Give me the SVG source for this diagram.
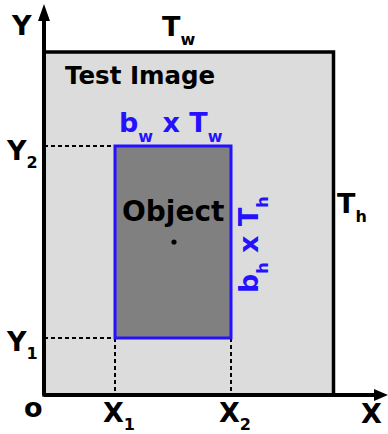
<svg xmlns="http://www.w3.org/2000/svg" width="388" height="434" viewBox="0 0 388 434">
<defs>
<style>
text{font-family:"DejaVu Sans",sans-serif;font-weight:bold;fill:#000}
.big{font-size:27px}
.sub{font-size:16px}
.blue{fill:#2412ff}
.dash{stroke:#000;stroke-width:2;stroke-dasharray:4,3;fill:none}
.axis{stroke:#000;stroke-width:4;fill:none}
</style>
</defs>
<rect width="388" height="434" fill="#fff"/>
<g id="test-image">
<rect x="44" y="52" width="289.5" height="343" fill="#dcdcdc" stroke="#000" stroke-width="3.5"/>
<text x="65" y="84" style="font-size:24.5px">Test Image</text>
</g>
<g id="connectors">
<path class="dash" d="M44 146H115M44 338H115M115 338V395M231 338V395"/>
<path class="axis" d="M44 395V18M44 395H376"/>
<path d="M38 21L44 4L50 21Z M374 389L388 395L374 401Z" fill="#000"/>
</g>
<g id="object">
<rect x="115" y="146" width="116" height="192" fill="#808080" stroke="#2412ff" stroke-width="3"/>
<text x="122" y="221" style="font-size:28px">Object</text>
<circle cx="174" cy="242" r="2.6" fill="#000"/>
</g>
<g id="labels">
<text class="big" x="12" y="35">Y</text>
<text class="big" x="162" y="36">T<tspan class="sub" dy="9">w</tspan></text>
<text class="big blue" x="119" y="132">b<tspan class="sub" dy="10">w</tspan><tspan dy="-10"> x T</tspan><tspan class="sub" dy="10">w</tspan></text>
<text class="big" x="7" y="160">Y<tspan class="sub" dy="8">2</tspan></text>
<text class="big" x="337" y="213">T<tspan class="sub" dy="9">h</tspan></text>
<text class="big blue" transform="translate(258 293) rotate(-90)">b<tspan class="sub" dy="10">h</tspan><tspan dy="-10"> x T</tspan><tspan class="sub" dy="10">h</tspan></text>
<text class="big" x="7" y="351">Y<tspan class="sub" dy="8">1</tspan></text>
<text class="big" x="24" y="417">o</text>
<text class="big" x="103" y="422">X<tspan class="sub" dy="8">1</tspan></text>
<text class="big" x="219" y="422">X<tspan class="sub" dy="8">2</tspan></text>
<text class="big" x="361" y="423">X</text>
</g>
</svg>
